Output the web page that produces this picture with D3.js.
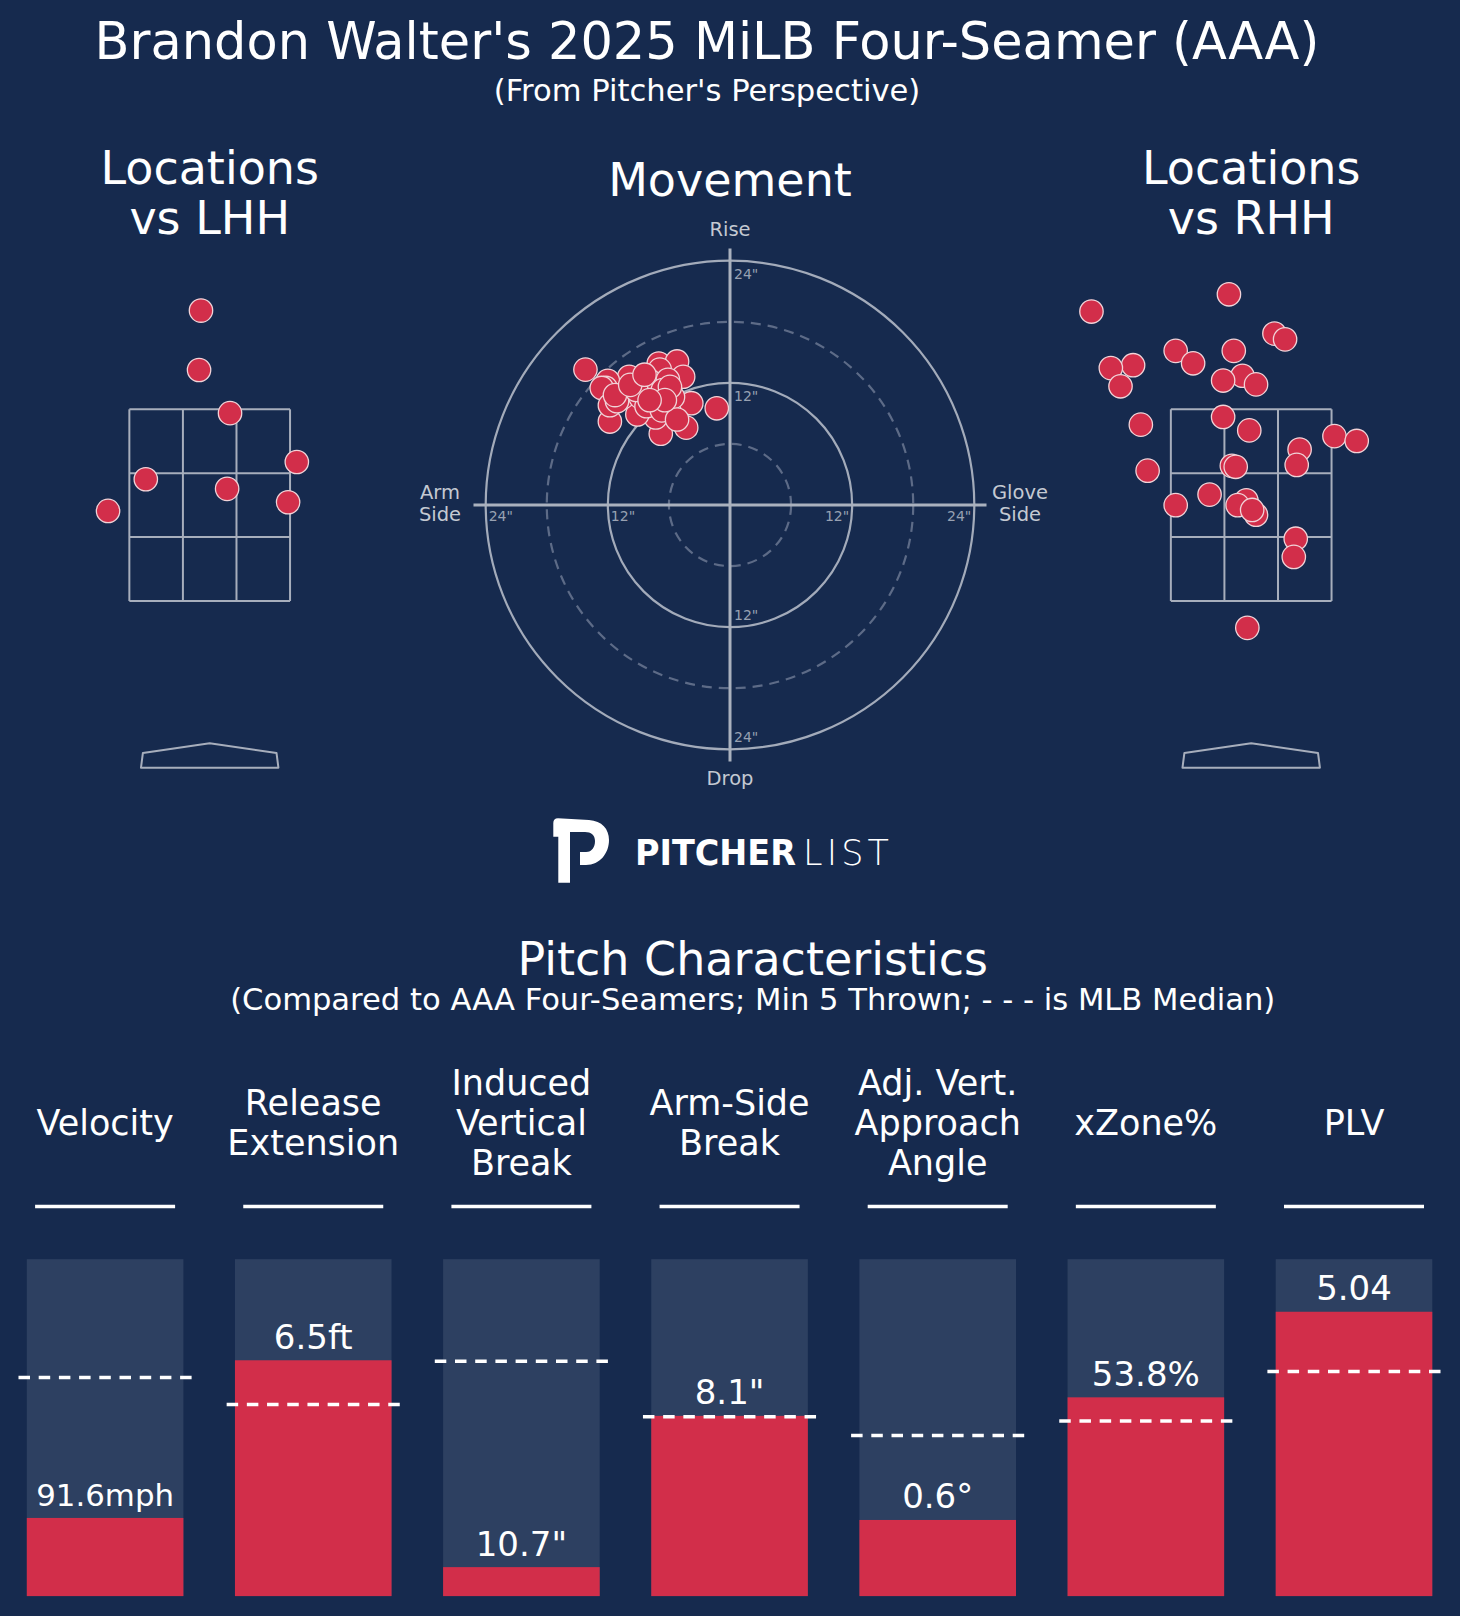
<!DOCTYPE html>
<html>
<head>
<meta charset="utf-8">
<script src="https://cdn.jsdelivr.net/npm/d3@7"></script>
<style>
  html, body { margin: 0; padding: 0; background: #162a4e; }
  svg { display: block; }
  text { font-family: 'DejaVu Sans', sans-serif; }
</style>
</head>
<body>
<svg id="chart" width="1460" height="1616"></svg>
<script>
// ---------------- DATA ----------------
// Movement (inches): horizontal (negative = arm side), vertical (induced)
const moveH = [-14.2, -1.3, -11.8, -6.8, -4.3, -3.8, -9.9, -12.0, -12.2, -7.0, -5.2, -6.9, -4.6, -7.9, -6.1, -5.6, -7.3, -9.1, -10.5, -12.6, -11.8, -11.1, -8.8, -7.5, -6.6, -8.2, -6.7, -5.2, -9.2, -5.9, -11.3, -9.8, -8.4, -6.4, -7.9];
const moveV = [13.3, 9.5, 8.2, 7.0, 7.6, 10.0, 12.6, 12.2, 11.5, 13.9, 14.1, 13.3, 12.6, 12.2, 12.3, 10.6, 8.6, 8.9, 10.6, 11.5, 9.8, 10.2, 10.6, 11.0, 11.3, 9.7, 9.3, 8.4, 11.3, 11.6, 10.8, 11.8, 12.8, 10.3, 10.3];
const moveTicks = [12, 24];
const moveRings = [6, 12, 18, 24];

// Locations vs LHH (feet, pitcher's perspective)
const lhhX = [-0.09, -0.11, 0.21, 0.90, -0.66, 0.18, 0.81, -1.05];
const lhhZ = [4.53, 3.91, 3.46, 2.95, 2.77, 2.67, 2.53, 2.44];

// Locations vs RHH
const rhhX = [-1.65, -0.23, 0.24, 0.35, -0.78, -0.60, -0.18, -1.22, -1.45, -1.35, -0.09, -0.29, 0.05, -1.14, -0.29, -0.02, 0.86, 1.09, 0.50, 0.47, -0.20, -0.16, -1.07, -0.43, -0.78, -0.05, -0.14, 0.05, 0.01, 0.46, 0.44, -0.04];
const rhhZ = [4.52, 4.70, 4.29, 4.23, 4.11, 3.98, 4.11, 3.96, 3.93, 3.74, 3.85, 3.80, 3.76, 3.34, 3.42, 3.28, 3.22, 3.17, 3.08, 2.92, 2.91, 2.90, 2.86, 2.61, 2.50, 2.55, 2.50, 2.40, 2.45, 2.15, 1.96, 1.22];

// Pitch characteristics
const metricNames = ['Velocity', 'Release\nExtension', 'Induced\nVertical\nBreak', 'Arm-Side\nBreak', 'Adj. Vert.\nApproach\nAngle', 'xZone%', 'PLV'];
const metricLabels = ['91.6mph', '6.5ft', '10.7"', '8.1"', '0.6°', '53.8%', '5.04'];
const pitcherPct = [23.2, 70.0, 8.6, 53.5, 22.6, 59.0, 84.4];
const medianPct = [64.9, 56.9, 69.7, 53.2, 47.7, 52.0, 66.7];

// ---------------- STYLE ----------------
const BG = '#162a4e', BAR_BG = '#2d4061', RED = '#d22e4a';
const PT_STROKE = '#f1d3d8';
const LINE = '#a7aebc';

const svg = d3.select('#chart');
svg.append('rect').attr('width', 1460).attr('height', 1616).attr('fill', BG);

function multiText(g, str, x, cy, size, lh, color) {
  const lines = str.split('\n');
  const t = g.append('text').attr('x', x).attr('text-anchor', 'middle')
    .attr('font-size', size).attr('fill', color);
  lines.forEach((ln, i) => {
    t.append('tspan').attr('x', x)
      .attr('y', cy + (i - (lines.length - 1) / 2) * lh + size * 0.36)
      .text(ln);
  });
  return t;
}

// ---------------- TITLES ----------------
svg.append('text').attr('x', 707).attr('y', 59).attr('text-anchor', 'middle')
  .attr('font-size', 51).attr('fill', '#fff')
  .text("Brandon Walter's 2025 MiLB Four-Seamer (AAA)");
svg.append('text').attr('x', 707).attr('y', 101).attr('text-anchor', 'middle')
  .attr('font-size', 30.6).attr('fill', '#fff')
  .text("(From Pitcher's Perspective)");

multiText(svg, 'Locations\nvs LHH', 209.7, 192.2, 46, 50.4, '#fff');
multiText(svg, 'Movement', 730, 179.3, 46, 50, '#fff');
multiText(svg, 'Locations\nvs RHH', 1251.2, 192.2, 46, 50.4, '#fff');

// ---------------- LOCATION PLOTS ----------------
function locationPlot(cx, xs, zs) {
  const g = svg.append('g');
  const x = d3.scaleLinear().domain([-0.83, 0.83]).range([cx - 80.35, cx + 80.35]);
  const y = d3.scaleLinear().domain([1.5, 3.5]).range([601, 409.3]);
  const xv = d3.range(4).map(i => -0.83 + i * (1.66 / 3));
  const zv = d3.range(4).map(i => 1.5 + i * (2 / 3));
  xv.forEach(v => g.append('line').attr('x1', x(v)).attr('x2', x(v)).attr('y1', y(1.5)).attr('y2', y(3.5))
    .attr('stroke', LINE).attr('stroke-width', 2));
  zv.forEach(v => g.append('line').attr('x1', x(-0.83)).attr('x2', x(0.83)).attr('y1', y(v)).attr('y2', y(v))
    .attr('stroke', LINE).attr('stroke-width', 2));
  const plate = [[-0.71, -0.24], [-0.69, -0.085], [0, 0.015], [0.69, -0.085], [0.71, -0.24]];
  g.append('path').attr('d', d3.line().x(d => x(d[0])).y(d => y(d[1]))(plate) + 'Z')
    .attr('fill', 'none').attr('stroke', LINE).attr('stroke-width', 2).attr('stroke-linejoin', 'round');
  g.selectAll('circle.p').data(xs.map((v, i) => [v, zs[i]])).enter().append('circle')
    .attr('cx', d => x(d[0])).attr('cy', d => y(d[1])).attr('r', 11.7)
    .attr('fill', RED).attr('stroke', PT_STROKE).attr('stroke-width', 1.3);
}
locationPlot(209.7, lhhX, lhhZ);
locationPlot(1251.2, rhhX, rhhZ);

// ---------------- MOVEMENT PLOT ----------------
(function () {
  const cx = 730, cy = 505, R = 244.3;
  const g = svg.append('g');
  const sx = d3.scaleLinear().domain([-24, 24]).range([cx - R, cx + R]);
  const sy = d3.scaleLinear().domain([-24, 24]).range([cy + R, cy - R]);
  const pr = d => sx(d) - sx(0);
  moveRings.forEach(r => {
    const solid = r % 12 === 0;
    g.append('circle').attr('cx', sx(0)).attr('cy', sy(0)).attr('r', pr(r))
      .attr('fill', 'none')
      .attr('stroke', solid ? '#a3abba' : '#5d6b87')
      .attr('stroke-width', 2.2)
      .attr('stroke-dasharray', solid ? null : '10,7');
  });
  const ext = 25.2;
  g.append('line').attr('x1', sx(-ext)).attr('x2', sx(ext)).attr('y1', sy(0)).attr('y2', sy(0))
    .attr('stroke', '#aab1be').attr('stroke-width', 3);
  g.append('line').attr('x1', sx(0)).attr('x2', sx(0)).attr('y1', sy(ext)).attr('y2', sy(-ext))
    .attr('stroke', '#aab1be').attr('stroke-width', 3);
  const TC = '#98a1b2', TS = 14;
  moveTicks.forEach(t => {
    g.append('text').attr('x', sx(0) + 4).attr('y', sy(t) + 18).attr('font-size', TS).attr('fill', TC).text(t + '"');
    g.append('text').attr('x', sx(0) + 4).attr('y', sy(-t) - 7).attr('font-size', TS).attr('fill', TC).text(t + '"');
    g.append('text').attr('x', sx(-t) + 3).attr('y', sy(0) + 15.5).attr('font-size', TS).attr('fill', TC).text(t + '"');
    g.append('text').attr('x', sx(t) - 3).attr('y', sy(0) + 15.5).attr('text-anchor', 'end').attr('font-size', TS).attr('fill', TC).text(t + '"');
  });
  const LC = '#c4c9d2', LS = 19.5;
  multiText(g, 'Rise', cx, 228.8, LS, 22, LC);
  multiText(g, 'Drop', cx, 778, LS, 22, LC);
  multiText(g, 'Arm\nSide', 440, 503.3, LS, 21.7, LC);
  multiText(g, 'Glove\nSide', 1020, 503.3, LS, 21.7, LC);
  g.selectAll('circle.m').data(moveH.map((v, i) => [v, moveV[i]])).enter().append('circle')
    .attr('cx', d => sx(d[0])).attr('cy', d => sy(d[1])).attr('r', 11.7)
    .attr('fill', RED).attr('stroke', PT_STROKE).attr('stroke-width', 1.3);
})();

// ---------------- LOGO ----------------
(function () {
  const g = svg.append('g');
  g.append('path')
    .attr('d', 'M553.3,823 C553.3,820 555,818.3 558,818.3 L589,820 C602,821 609,829 609,840 ' +
               'C609,853 600,865 586,865 L580,865 L580,852 L586,852 C592,852 595,847 595,841 ' +
               'C595,835 591,832 585,832 L570,832 L570,882.7 L558.3,882.7 L558.3,836.7 L553.3,836.7 Z')
    .attr('fill', '#fff');
  g.append('text').attr('x', 635).attr('y', 865).attr('font-family', "'Open Sans', sans-serif")
    .attr('font-weight', 700).attr('font-size', 35).attr('fill', '#fff')
    .attr('textLength', 161).attr('lengthAdjust', 'spacingAndGlyphs').text('PITCHER');
  g.append('text').attr('x', 803).attr('y', 865).attr('font-family', "'Open Sans', sans-serif")
    .attr('font-weight', 300).attr('font-size', 35).attr('fill', '#fff')
    .attr('textLength', 86).attr('lengthAdjust', 'spacing').text('LIST');
})();

// ---------------- PITCH CHARACTERISTICS ----------------
svg.append('text').attr('x', 752.7).attr('y', 974.5).attr('text-anchor', 'middle')
  .attr('font-size', 46).attr('fill', '#fff').text('Pitch Characteristics');
svg.append('text').attr('x', 752.7).attr('y', 1009.5).attr('text-anchor', 'middle')
  .attr('font-size', 30.6).attr('fill', '#fff')
  .text('(Compared to AAA Four-Seamers; Min 5 Thrown; - - - is MLB Median)');

(function () {
  const g = svg.append('g');
  const idx = d3.range(metricNames.length);
  const x = d3.scalePoint().domain(idx).range([105.1, 1354]);
  const y = d3.scaleLinear().domain([0, 100]).range([1596.1, 1259.2]);
  const bw = 156.6;
  idx.forEach(i => {
    const c = x(i);
    multiText(g, metricNames[i], c, 1122, 35, 40, '#fff');
    g.append('line').attr('x1', c - 70).attr('x2', c + 70).attr('y1', 1206.6).attr('y2', 1206.6)
      .attr('stroke', '#fff').attr('stroke-width', 3.5);
    g.append('rect').attr('x', c - bw / 2).attr('y', y(100)).attr('width', bw).attr('height', y(0) - y(100))
      .attr('fill', BAR_BG);
    g.append('rect').attr('x', c - bw / 2).attr('y', y(pitcherPct[i])).attr('width', bw)
      .attr('height', y(0) - y(pitcherPct[i])).attr('fill', RED);
    const lbl = g.append('text').attr('x', c).attr('y', y(pitcherPct[i]) - 11.5).attr('text-anchor', 'middle')
      .attr('font-size', 34).attr('fill', '#fff').text(metricLabels[i]);
    const w = lbl.node().getComputedTextLength();
    if (w > 138) lbl.attr('font-size', 34 * 138 / w);
    g.append('line').attr('x1', c - 86.6).attr('x2', c + 86.6)
      .attr('y1', y(medianPct[i])).attr('y2', y(medianPct[i]))
      .attr('stroke', '#fff').attr('stroke-width', 3.5).attr('stroke-dasharray', '11.5,8.7');
  });
})();
</script>
</body>
</html>
